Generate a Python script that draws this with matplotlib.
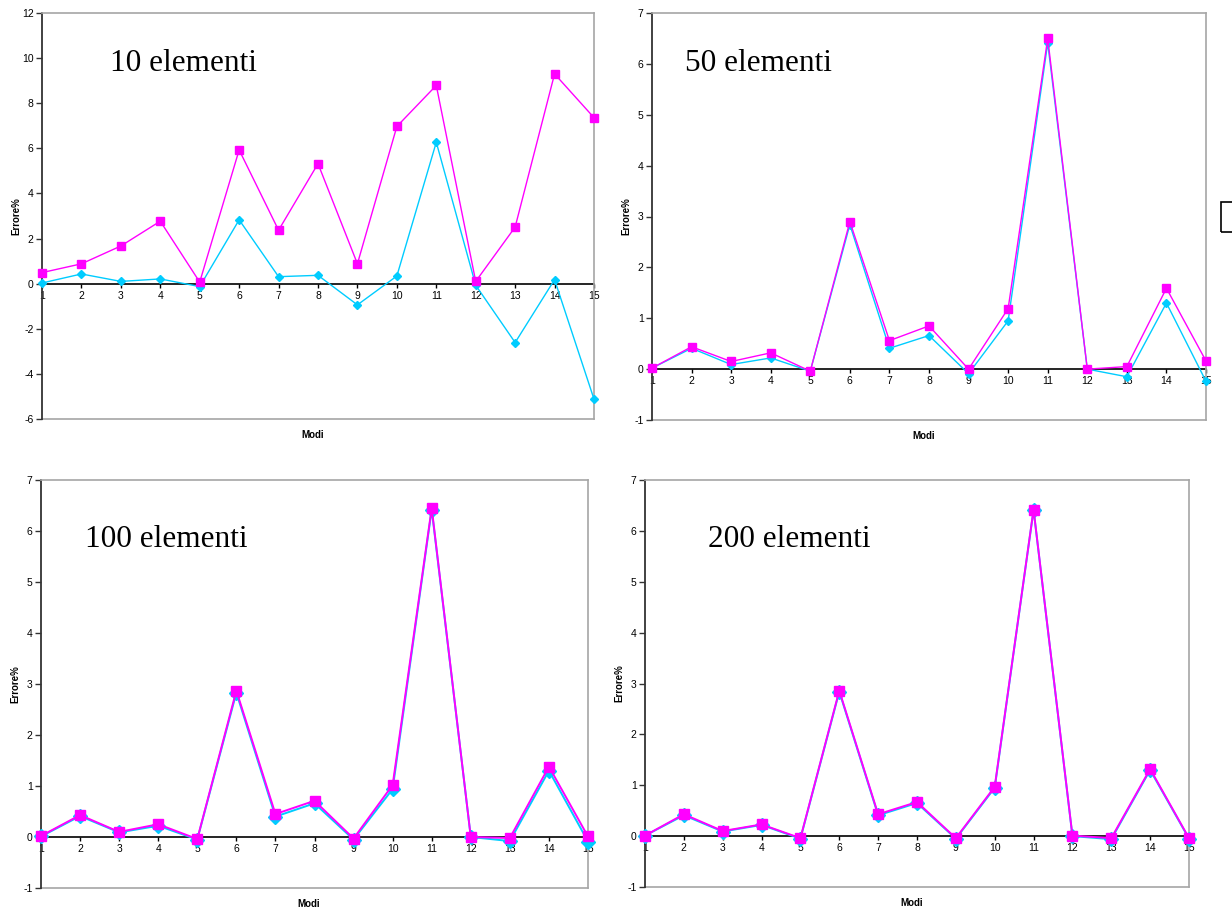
import matplotlib.pyplot as plt
from matplotlib.patches import Rectangle

plt.rcParams['font.family'] = ['Liberation Sans', 'DejaVu Sans']
plt.rcParams['axes.unicode_minus'] = False

modi = list(range(1, 16))
titles = ['10 elementi', '50 elementi', '100 elementi', '200 elementi']

# errore% per modo, serie magenta (quadrati) e ciano (rombi)
mag_10 = [0.49, 0.88, 1.67, 2.77, 0.07, 5.93, 2.37, 5.32, 0.88, 6.97, 8.79, 0.10, 2.51, 9.30, 7.36]
cyan_10 = [0.03, 0.43, 0.10, 0.21, -0.13, 2.83, 0.31, 0.37, -0.94, 0.34, 6.27, -0.07, -2.61, 0.18, -5.12]
mag_50 = [0.02, 0.44, 0.15, 0.32, -0.04, 2.90, 0.56, 0.85, 0.00, 1.19, 6.50, 0.00, 0.05, 1.59, 0.16]
cyan_50 = [0.02, 0.41, 0.09, 0.22, -0.04, 2.84, 0.41, 0.66, -0.09, 0.95, 6.41, 0.00, -0.15, 1.30, -0.24]
mag_100 = [0.02, 0.43, 0.10, 0.25, -0.04, 2.87, 0.45, 0.71, -0.03, 1.02, 6.45, 0.00, -0.02, 1.38, 0.01]
cyan_100 = [0.01, 0.41, 0.09, 0.22, -0.05, 2.83, 0.40, 0.66, -0.05, 0.94, 6.42, 0.00, -0.08, 1.30, -0.09]
mag_200 = [0.01, 0.43, 0.10, 0.23, -0.04, 2.86, 0.43, 0.67, -0.04, 0.97, 6.42, 0.01, -0.04, 1.32, -0.04]
cyan_200 = [0.01, 0.41, 0.09, 0.22, -0.05, 2.84, 0.41, 0.65, -0.05, 0.95, 6.41, 0.00, -0.06, 1.30, -0.05]

W, H = 1232, 910
fig = plt.figure(figsize=(W / 100, H / 100), dpi=100)


def px_rect(x0, y0, x1, y1):
    return [x0 / W, 1 - y1 / H, (x1 - x0) / W, (y1 - y0) / H]


panels = [
    (px_rect(42, 13, 594, 419), mag_10, cyan_10, range(-6, 13, 2), (0.123, 0.858), 4, 5.5, 1.0),
    (px_rect(652, 13, 1206, 420), mag_50, cyan_50, range(-1, 8), (0.060, 0.858), 4, 6, 1.0),
    (px_rect(41, 480, 588, 888), mag_100, cyan_100, range(-1, 8), (0.080, 0.836), 7, 6.5, 1.4),
    (px_rect(645, 480, 1189, 887), mag_200, cyan_200, range(-1, 8), (0.116, 0.836), 7, 6.5, 1.4),
]

for (rect, mag, cyan, yt, tpos, dsize, ssize, lw), title in zip(panels, titles):
    ax = fig.add_axes(rect)
    ax.plot(modi, cyan, color='#00CCFF', marker='D', ms=dsize, lw=lw, clip_on=False, zorder=3)
    ax.plot(modi, mag, color='#FF00FF', marker='s', ms=ssize, lw=lw, clip_on=False, zorder=4)
    ax.set_xlim(1, 15)
    ax.set_ylim(yt[0], yt[-1])
    ax.set_yticks(list(yt))
    ax.set_xticks(modi)

    ax.spines['left'].set_color('#333333')
    ax.spines['left'].set_linewidth(1.3)
    for s in ['top', 'right']:
        ax.spines[s].set_color('#a6a6a6')
        ax.spines[s].set_linewidth(1.2)
    ax.spines['bottom'].set_position(('data', 0))
    ax.spines['bottom'].set_color('black')
    ax.spines['bottom'].set_linewidth(1.2)
    ax.spines['bottom'].set_zorder(2)
    ax.plot([0, 1], [0, 0], transform=ax.transAxes, color='#a6a6a6', lw=1.2, clip_on=False, zorder=1)

    ax.tick_params(axis='y', direction='out', length=4, width=1, labelsize=7.5, pad=2, color='#333333')
    ax.tick_params(axis='x', direction='out', length=3, width=1, labelsize=7.5, pad=2)

    ax.set_ylabel('Errore%', fontsize=7, fontweight='bold')
    ax.yaxis.set_label_coords(-0.037, 0.5)
    ax.text(0.49, -0.04, 'Modi', transform=ax.transAxes, fontsize=7, fontweight='bold',
            ha='center', va='center')
    ax.text(tpos[0], tpos[1], title, transform=ax.transAxes, fontsize=22.5,
            family='Liberation Serif', ha='left', va='baseline')

# riquadro della legenda, tagliato al bordo destro
fig.patches.append(Rectangle((1221 / W, 1 - 232 / H), 30 / W, 30 / H, transform=fig.transFigure,
                             fill=False, edgecolor='black', lw=1.2))

fig.savefig('out.png', dpi=100)
